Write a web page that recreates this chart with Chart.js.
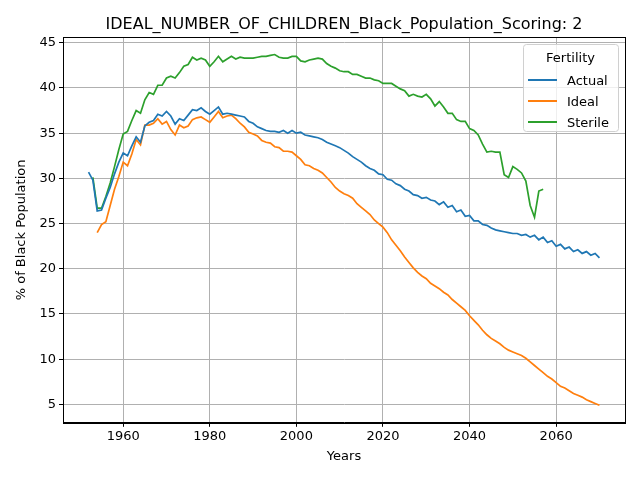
<!DOCTYPE html>
<html>
<head>
<meta charset="utf-8">
<script src="https://cdn.jsdelivr.net/npm/chart.js@4/dist/chart.umd.min.js"></script>
<style>
  body { margin: 0; background: #fff; }
  #wrap { width: 640px; height: 480px; }
</style>
</head>
<body>
<div id="wrap"><canvas id="graphique"></canvas></div>
<script>
// Données
const anneesActual = [];
for (let a = 1952; a <= 2070; a++) anneesActual.push(a);
const anneesIdeal = anneesActual.slice(2);
const anneesSterile = anneesActual.slice(1, 106);

const actual = [30.7, 29.8, 26.4, 26.5, 27.8, 29.0, 30.5, 31.8, 32.8, 32.5,
  33.6, 34.6, 34.0, 35.8, 36.2, 36.4, 37.1, 36.9, 37.4, 36.9,
  36.0, 36.6, 36.4, 37.0, 37.6, 37.5, 37.8, 37.4, 37.1, 37.5,
  37.9, 37.1, 37.2, 37.1, 37.0, 36.9, 36.8, 36.3, 36.1, 35.7,
  35.5, 35.3, 35.2, 35.2, 35.1, 35.3, 35.0, 35.3, 35.0, 35.1,
  34.8, 34.7, 34.6, 34.5, 34.3, 34.0, 33.8, 33.6, 33.4, 33.1,
  32.8, 32.4, 32.1, 31.8, 31.4, 31.1, 30.9, 30.5, 30.4, 29.9,
  29.8, 29.4, 29.2, 28.8, 28.6, 28.2, 28.1, 27.8, 27.9, 27.6,
  27.5, 27.1, 27.4, 26.8, 27.0, 26.3, 26.5, 25.8, 25.9, 25.3,
  25.3, 24.9, 24.8, 24.5, 24.3, 24.2, 24.1, 24.0, 23.9, 23.9,
  23.7, 23.8, 23.5, 23.7, 23.2, 23.5, 22.9, 23.1, 22.5, 22.7,
  22.2, 22.4, 21.9, 22.1, 21.7, 21.9, 21.5, 21.7, 21.2, 21.4];

const ideal = [24.0, 24.9, 25.2, 27.0, 28.8, 30.2, 31.8, 31.4, 32.7, 34.3,
  33.7, 35.9, 35.9, 36.1, 36.6, 36.0, 36.3, 35.4, 34.8, 35.9,
  35.6, 35.8, 36.5, 36.7, 36.8, 36.5, 36.2, 36.8, 37.4, 36.7,
  36.9, 37.0, 36.6, 36.1, 35.7, 35.1, 34.9, 34.7, 34.2, 34.0,
  33.9, 33.5, 33.4, 33.0, 33.0, 32.9, 32.5, 32.1, 31.5, 31.4,
  31.1, 30.9, 30.6, 30.1, 29.6, 29.0, 28.6, 28.3, 28.1, 27.8,
  27.2, 26.8, 26.4, 26.0, 25.4, 25.0, 24.6, 24.0, 23.2, 22.6,
  22.0, 21.3, 20.7, 20.1, 19.6, 19.2, 18.9, 18.4, 18.1, 17.8,
  17.4, 17.1, 16.6, 16.2, 15.8, 15.4, 14.8, 14.3, 13.8, 13.2,
  12.7, 12.3, 12.0, 11.7, 11.3, 11.0, 10.8, 10.6, 10.4, 10.1,
  9.7, 9.3, 8.9, 8.5, 8.1, 7.8, 7.4, 7.0, 6.8, 6.5,
  6.2, 6.0, 5.8, 5.5, 5.3, 5.1, 4.9];

const sterile = [30.1, 26.7, 26.7, 28.0, 29.5, 31.3, 33.2, 34.9, 35.2, 36.4,
  37.5, 37.2, 38.7, 39.5, 39.3, 40.3, 40.3, 41.1, 41.3, 41.1,
  41.7, 42.4, 42.6, 43.4, 43.1, 43.3, 43.1, 42.4, 42.9, 43.5,
  42.9, 43.2, 43.5, 43.2, 43.4, 43.3, 43.3, 43.3, 43.4, 43.5,
  43.5, 43.6, 43.7, 43.4, 43.3, 43.3, 43.5, 43.5, 43.0, 42.9,
  43.1, 43.2, 43.3, 43.2, 42.7, 42.4, 42.2, 41.9, 41.8, 41.8,
  41.5, 41.5, 41.3, 41.1, 41.1, 40.9, 40.8, 40.5, 40.5, 40.5,
  40.2, 39.9, 39.7, 39.1, 39.3, 39.1, 39.0, 39.3, 38.8, 38.0,
  38.5, 37.9, 37.2, 37.2, 36.5, 36.3, 36.3, 35.5, 35.3, 34.8,
  33.8, 32.9, 33.0, 32.9, 32.9, 30.4, 30.1, 31.3, 31.0, 30.6,
  29.7, 27.0, 25.7, 28.6, 28.8];

const ticksX = [1960, 1980, 2000, 2020, 2040, 2060];
const ticksY = [5, 10, 15, 20, 25, 30, 35, 40, 45];

const couleurs = { actual: '#1f77b4', ideal: '#ff7f0e', sterile: '#2ca02c' };
const police = 'DejaVu Sans';

function points(xs, ys) {
  return ys.map((y, i) => ({ x: xs[i], y: y }));
}

// Titre, cadre + légende dessinés à la main
const decor = {
  id: 'decor',
  afterDraw(chart) {
    const ctx = chart.ctx;
    const ca = chart.chartArea;
    ctx.save();
    ctx.strokeStyle = '#000';
    ctx.lineWidth = 1;
    ctx.strokeRect(Math.round(ca.left) + 0.5, Math.round(ca.top) + 0.5,
      Math.round(ca.right - ca.left), Math.round(ca.bottom - ca.top));

    ctx.fillStyle = '#000';
    ctx.font = '16px "' + police + '"';
    ctx.textAlign = 'center';
    ctx.textBaseline = 'alphabetic';
    ctx.fillText('IDEAL_NUMBER_OF_CHILDREN_Black_Population_Scoring: 2', (ca.left + ca.right) / 2, 29);

    // boîte de légende
    const bx = 523, by = 44, bw = 95, bh = 87;
    ctx.fillStyle = 'rgba(255,255,255,0.8)';
    ctx.strokeStyle = '#d0d0d0';
    ctx.beginPath();
    ctx.roundRect(bx + 0.5, by + 0.5, bw, bh, 3);
    ctx.fill();
    ctx.stroke();
    ctx.fillStyle = '#000';
    ctx.font = '13px "' + police + '"';
    ctx.fillText('Fertility', bx + bw / 2, by + 18);
    const items = [['Actual', couleurs.actual], ['Ideal', couleurs.ideal], ['Sterile', couleurs.sterile]];
    ctx.textAlign = 'left';
    items.forEach((it, i) => {
      const yy = by + 36 + i * 21;
      ctx.strokeStyle = it[1];
      ctx.lineWidth = 2;
      ctx.beginPath();
      ctx.moveTo(bx + 5, yy);
      ctx.lineTo(bx + 34, yy);
      ctx.stroke();
      ctx.fillStyle = '#000';
      ctx.fillText(it[0], bx + 44, yy + 5);
    });
    ctx.restore();
  }
};

const ctx = document.getElementById('graphique').getContext('2d');
new Chart(ctx, {
  type: 'line',
  data: {
    datasets: [
      { label: 'Actual', data: points(anneesActual, actual), borderColor: couleurs.actual },
      { label: 'Ideal', data: points(anneesIdeal, ideal), borderColor: couleurs.ideal },
      { label: 'Sterile', data: points(anneesSterile, sterile), borderColor: couleurs.sterile }
    ]
  },
  options: {
    responsive: true,
    maintainAspectRatio: false,
    animation: false,
    elements: { point: { radius: 0 }, line: { borderWidth: 1.7, tension: 0 } },
    layout: { padding: { left: 10, right: 15, top: 37, bottom: 12 } },
    plugins: { legend: { display: false }, title: { display: false }, tooltip: { enabled: false } },
    scales: {
      x: {
        type: 'linear', min: 1946.1, max: 2075.9,
        afterBuildTicks: s => { s.ticks = ticksX.map(v => ({ value: v })); },
        grid: { color: '#b0b0b0', tickLength: 4, tickColor: '#000' },
        border: { color: '#000' },
        ticks: { color: '#000', font: { family: police, size: 13 }, padding: 2, callback: v => String(v) },
        title: { display: true, text: 'Years', color: '#000', font: { family: police, size: 13 }, padding: { top: 2 } }
      },
      y: {
        min: 2.96, max: 45.64,
        afterBuildTicks: s => { s.ticks = ticksY.map(v => ({ value: v })); },
        afterFit: s => { s.width = 53; },
        grid: { color: '#b0b0b0', tickLength: 4, tickColor: '#000' },
        border: { color: '#000' },
        ticks: { color: '#000', font: { family: police, size: 13 }, padding: 3, callback: v => String(v) },
        title: { display: true, text: '% of Black Population', color: '#000', font: { family: police, size: 13 }, padding: { bottom: 4 } }
      }
    }
  },
  plugins: [decor]
});
</script>
</body>
</html>
